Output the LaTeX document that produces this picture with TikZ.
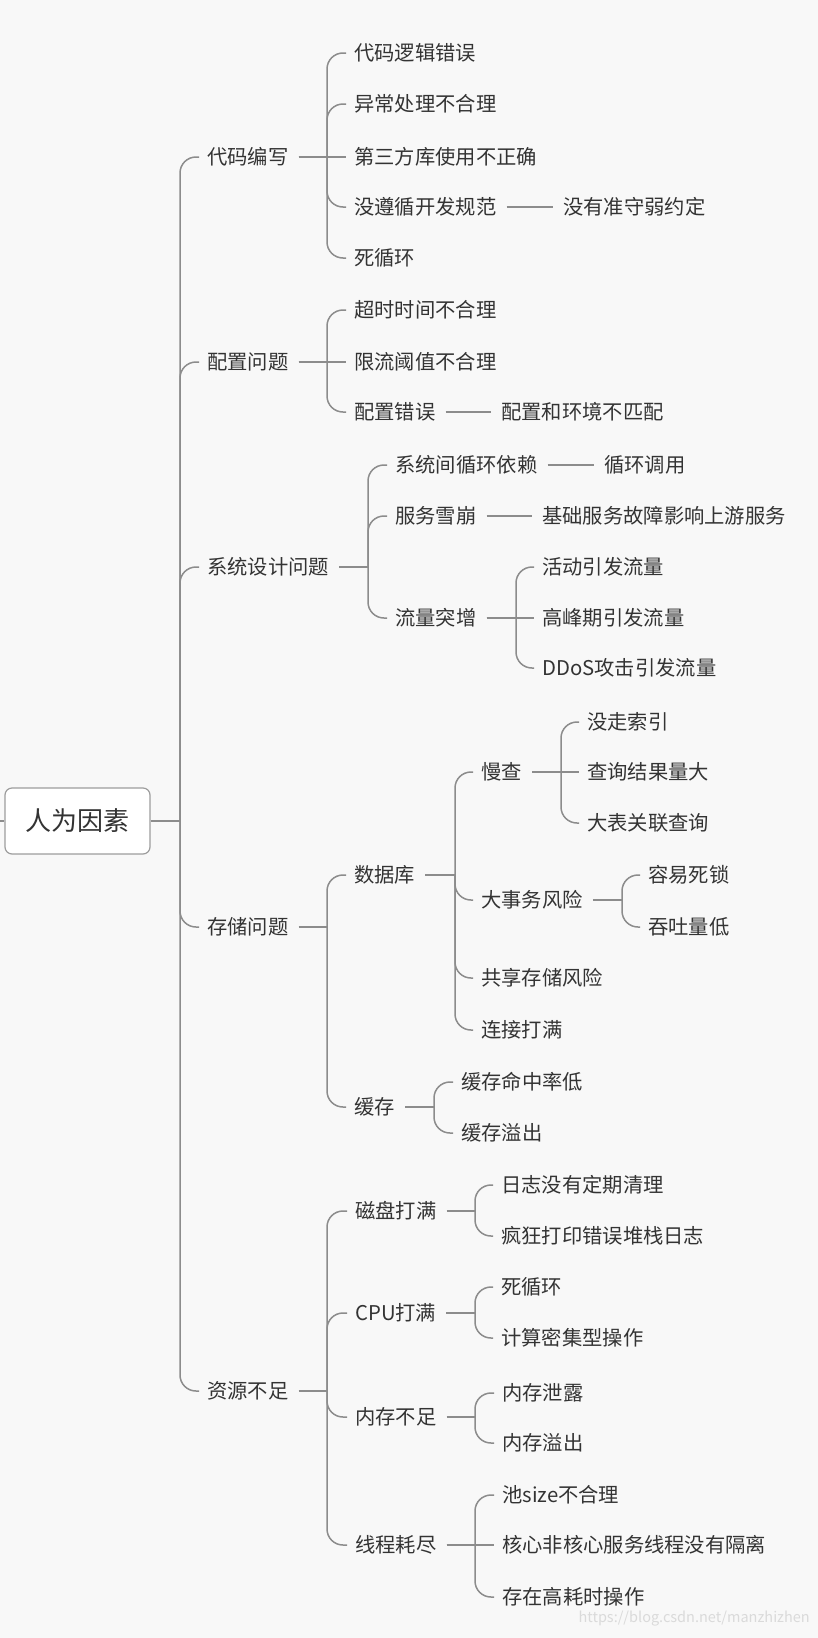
\documentclass[tikz,border=0pt]{standalone}
\usepackage{fontspec}
\setmainfont{Noto Sans CJK SC}
\usetikzlibrary{calc}
\definecolor{bg}{HTML}{F8F8F8}
\definecolor{ln}{HTML}{8C8C8C}
\definecolor{tx}{HTML}{333333}
\definecolor{wm}{HTML}{DADADA}
\newcommand\mmkid[2]{\draw[conn] (#1) -- (#1 |- #2.west) -- ([xshift=-8pt]#2.west);}
\newcommand\mmstraight[2]{\draw[conn] ([xshift=10pt]#1.east) -- ([xshift=-8pt]#2.west);}
\newcommand\mmfeed[2]{\draw[conn] ([xshift=10pt]#1.east) -- (#2);}
\newcommand\mmsingle[2]{\draw[conn] ([xshift=10pt]#1.east) -- ([xshift=-10pt]#2.west);}
\begin{document}
\begin{tikzpicture}[x=1pt,y=-1pt,
  lbl/.style={anchor=west,inner sep=0pt,font=\fontsize{20.3}{24}\selectfont,text=tx,text height=17.8pt,text depth=2.4pt},
  conn/.style={draw=ln,line width=1.5pt,rounded corners=16pt},
  rootbox/.style={draw=ln!85,fill=white,rounded corners=7pt,line width=1.2pt,minimum width=145pt,minimum height=66pt,inner sep=0pt,font=\fontsize{26}{30}\selectfont,text=tx,text height=22.9pt,text depth=3.1pt},
  wmark/.style={anchor=east,inner sep=0pt,font=\fontsize{14.5}{16}\selectfont,text=wm}
]
\fill[bg] (0,0) rectangle (818,1638);
\useasboundingbox (0,0) rectangle (818,1638);

% root
\node[rootbox] (root) at (77.5,821) {人为因素};
\coordinate (lft) at (0,821);
\coordinate (j0) at (180,821);

% level 1
\node[lbl] (A) at (207,157) {代码编写};
\node[lbl] (B) at (207,362) {配置问题};
\node[lbl] (C) at (207,567) {系统设计问题};
\node[lbl] (D) at (207,927) {存储问题};
\node[lbl] (E) at (207,1391) {资源不足};

% A
\node[lbl] (A1) at (354,53) {代码逻辑错误};
\node[lbl] (A2) at (354,104) {异常处理不合理};
\node[lbl] (A3) at (354,157) {第三方库使用不正确};
\node[lbl] (A4) at (354,207) {没遵循开发规范};
\node[lbl] (A5) at (354,258) {死循环};
\node[lbl] (A41) at (563,207) {没有准守弱约定};
% B
\node[lbl] (B1) at (354,310) {超时时间不合理};
\node[lbl] (B2) at (354,362) {限流阈值不合理};
\node[lbl] (B3) at (354,412) {配置错误};
\node[lbl] (B31) at (501,412) {配置和环境不匹配};
% C
\node[lbl] (C1) at (395,465) {系统间循环依赖};
\node[lbl] (C2) at (395,516) {服务雪崩};
\node[lbl] (C3) at (395,618) {流量突增};
\node[lbl] (C11) at (604,465) {循环调用};
\node[lbl] (C21) at (542,516) {基础服务故障影响上游服务};
\node[lbl] (C31) at (542,567) {活动引发流量};
\node[lbl] (C32) at (542,618) {高峰期引发流量};
\node[lbl] (C33) at (542,668) {DDoS攻击引发流量};
% D
\node[lbl] (D1) at (354,875) {数据库};
\node[lbl] (D2) at (354,1107) {缓存};
\node[lbl] (D11) at (481,772) {慢查};
\node[lbl] (D12) at (481,900) {大事务风险};
\node[lbl] (D13) at (481,978) {共享存储风险};
\node[lbl] (D14) at (481,1030) {连接打满};
\node[lbl] (D111) at (587,722) {没走索引};
\node[lbl] (D112) at (587,772) {查询结果量大};
\node[lbl] (D113) at (587,823) {大表关联查询};
\node[lbl] (D121) at (648,875) {容易死锁};
\node[lbl] (D122) at (648,927) {吞吐量低};
\node[lbl] (D21) at (461,1082) {缓存命中率低};
\node[lbl] (D22) at (461,1133) {缓存溢出};
% E
\node[lbl] (E1) at (355,1211) {磁盘打满};
\node[lbl] (E2) at (355,1313) {CPU打满};
\node[lbl] (E3) at (355,1417) {内存不足};
\node[lbl] (E4) at (355,1545) {线程耗尽};
\node[lbl] (E11) at (501,1185) {日志没有定期清理};
\node[lbl] (E12) at (501,1236) {疯狂打印错误堆栈日志};
\node[lbl] (E21) at (501,1287) {死循环};
\node[lbl] (E22) at (501,1338) {计算密集型操作};
\node[lbl] (E31) at (502,1393) {内存泄露};
\node[lbl] (E32) at (502,1443) {内存溢出};
\node[lbl] (E41) at (502,1495) {池size不合理};
\node[lbl] (E42) at (502,1545) {核心非核心服务线程没有隔离};
\node[lbl] (E43) at (502,1597) {存在高耗时操作};

\node[wmark] (wmk) at (810,1619) {https://blog.csdn.net/manzhizhen};

% junctions
\coordinate (jA) at (327,157);
\coordinate (jB) at (327,362);
\coordinate (jC) at (368,567);
\coordinate (jC3) at (516,618);
\coordinate (jD) at (327,927);
\coordinate (jD1) at (455,875);
\coordinate (jD11) at (561,772);
\coordinate (jD12) at (622,900);
\coordinate (jD2) at (434,1107);
\coordinate (jE) at (327,1391);
\coordinate (jE1) at (475,1211);
\coordinate (jE2) at (475,1313);
\coordinate (jE3) at (475,1417);
\coordinate (jE4) at (475,1545);

% root connectors
\draw[conn] (lft) -- (root.west);
\draw[conn] (root.east) -- (j0);
\mmkid{j0}{A} \mmkid{j0}{B} \mmkid{j0}{C} \mmkid{j0}{D} \mmkid{j0}{E}

% A
\mmfeed{A}{jA}
\mmkid{jA}{A1} \mmkid{jA}{A2} \mmstraight{A}{A3} \mmkid{jA}{A4} \mmkid{jA}{A5}
\mmsingle{A4}{A41}
% B
\mmfeed{B}{jB}
\mmkid{jB}{B1} \mmstraight{B}{B2} \mmkid{jB}{B3}
\mmsingle{B3}{B31}
% C
\mmfeed{C}{jC}
\mmkid{jC}{C1} \mmkid{jC}{C2} \mmkid{jC}{C3}
\mmsingle{C1}{C11}
\mmsingle{C2}{C21}
\mmfeed{C3}{jC3}
\mmkid{jC3}{C31} \mmstraight{C3}{C32} \mmkid{jC3}{C33}
% D
\mmfeed{D}{jD}
\mmkid{jD}{D1} \mmkid{jD}{D2}
\mmfeed{D1}{jD1}
\mmkid{jD1}{D11} \mmkid{jD1}{D12} \mmkid{jD1}{D13} \mmkid{jD1}{D14}
\mmfeed{D11}{jD11}
\mmkid{jD11}{D111} \mmstraight{D11}{D112} \mmkid{jD11}{D113}
\mmfeed{D12}{jD12}
\mmkid{jD12}{D121} \mmkid{jD12}{D122}
\mmfeed{D2}{jD2}
\mmkid{jD2}{D21} \mmkid{jD2}{D22}
% E
\mmfeed{E}{jE}
\mmkid{jE}{E1} \mmkid{jE}{E2} \mmkid{jE}{E3} \mmkid{jE}{E4}
\mmfeed{E1}{jE1}
\mmkid{jE1}{E11} \mmkid{jE1}{E12}
\mmfeed{E2}{jE2}
\mmkid{jE2}{E21} \mmkid{jE2}{E22}
\mmfeed{E3}{jE3}
\mmkid{jE3}{E31} \mmkid{jE3}{E32}
\mmfeed{E4}{jE4}
\mmkid{jE4}{E41} \mmstraight{E4}{E42} \mmkid{jE4}{E43}
\end{tikzpicture}
\end{document}
